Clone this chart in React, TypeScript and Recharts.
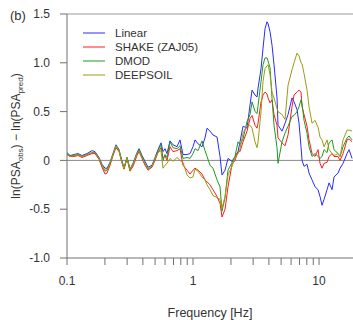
import { LineChart, Line, XAxis, YAxis, ReferenceLine, Customized } from "recharts";

// frequency samples [Hz]
const freq = [
  0.1, 0.1056, 0.1137, 0.1223, 0.1315, 0.1441, 0.1579, 0.1668, 0.1795, 0.1896,
  0.2003, 0.2077, 0.2194, 0.2318, 0.2448, 0.2587, 0.2733, 0.2835, 0.2995, 0.3162,
  0.3341, 0.3594, 0.3728, 0.3938, 0.416, 0.4394, 0.4727, 0.4994, 0.5275, 0.5572,
  0.578, 0.5995, 0.6219, 0.6568, 0.6938, 0.7464, 0.7885, 0.8329, 0.8962, 0.9467,
  1.0, 1.037, 1.096, 1.179, 1.245, 1.292, 1.364, 1.441, 1.551, 1.638,
  1.699, 1.795, 1.896, 2.04, 2.154, 2.276, 2.36, 2.494, 2.683, 2.835,
  2.941, 3.106, 3.221, 3.281, 3.466, 3.594, 3.728, 3.866, 3.938, 4.084,
  4.236, 4.394, 4.642, 4.727, 5.085, 5.373, 5.675, 6.105, 6.333, 6.69,
  6.94, 7.196, 7.33, 7.603, 8.031, 8.33, 8.799, 9.297, 9.82, 10.18,
  10.56, 10.96, 11.58, 12.01, 12.69, 13.15, 14.15, 14.68, 15.51, 16.68,
  17.3, 18.28,
];

const linear = [
  0.08, 0.05, 0.06, 0.07, 0.05, 0.07, 0.1, 0.09, 0.03, -0.04,
  -0.08, -0.08, -0.02, 0.07, 0.16, 0.11, -0.01, -0.08, 0.03, -0.09,
  -0.03, 0.08, 0.12, 0.05, -0.01, -0.07, -0.05, 0.03, 0.11, 0.18,
  0.09, 0.12, 0.07, 0.2, 0.16, 0.14, 0.21, 0.06, 0.06, 0.07,
  0.14, 0.21, 0.17, 0.14, 0.23, 0.33, 0.3, 0.26, 0.24, 0.04,
  -0.15, -0.1, 0.02, -0.01, 0.04, 0.09, 0.19, 0.35, 0.33, 0.57,
  0.72, 0.67, 0.65, 0.74, 0.94, 1.15, 1.35, 1.42, 1.4, 1.32,
  1.18, 0.98, 0.64, 0.36, 0.3, 0.38, 0.47, 0.64, 0.6, 0.52,
  0.38, 0.14, 0.0, -0.06, -0.04, -0.13, -0.2, -0.27, -0.3, -0.37,
  -0.46, -0.4, -0.3, -0.23, -0.3, -0.17, -0.13, -0.08, -0.03, 0.07,
  0.11, 0.02,
];

const shake = [
  0.06, 0.04, 0.04, 0.05, 0.03, 0.05, 0.07, 0.07, 0.01, -0.07,
  -0.14, -0.13, -0.05, 0.05, 0.13, 0.09, -0.03, -0.09, 0.02, -0.11,
  -0.06, 0.05, 0.09, 0.02, -0.05, -0.1, -0.07, 0.0, 0.08, 0.13,
  0.02, 0.05, 0.0, 0.14, 0.09, 0.1, 0.12, -0.05, -0.1, -0.14,
  -0.1, -0.08, -0.1, -0.14, -0.2, -0.22, -0.25, -0.3, -0.37, -0.44,
  -0.58, -0.5, -0.27, -0.04, 0.0, 0.09, 0.09, 0.19, 0.3, 0.43,
  0.46, 0.36, 0.33, 0.38, 0.6, 0.67, 0.7, 0.68, 0.64, 0.59,
  0.62, 0.47, 0.36, 0.23, 0.18, 0.15, 0.26, 0.55, 0.67, 0.7,
  0.72, 0.7, 0.55, 0.47, 0.35, 0.21, 0.07, 0.04, 0.11, -0.03,
  -0.08, -0.03, -0.02, 0.04, 0.07, 0.04, 0.04, 0.0, 0.07, 0.21,
  0.22, 0.19,
];

const dmod = [
  0.07, 0.05, 0.05, 0.06, 0.04, 0.06, 0.08, 0.08, 0.02, -0.05,
  -0.11, -0.1, -0.03, 0.06, 0.15, 0.1, -0.01, -0.08, 0.03, -0.1,
  -0.04, 0.07, 0.11, 0.04, -0.03, -0.09, -0.06, 0.02, 0.1, 0.16,
  0.0, 0.06, 0.03, 0.19, 0.13, 0.12, 0.15, 0.02, 0.03, 0.02,
  0.07, 0.12, 0.1, 0.2, 0.1, 0.04, -0.05, -0.08, -0.2, -0.27,
  -0.52, -0.38, -0.1, -0.02, 0.04, 0.19, 0.16, 0.22, 0.4, 0.47,
  0.6, 0.5, 0.48, 0.56, 0.81, 0.98, 1.05, 1.05, 1.02, 0.95,
  0.64, 0.36, 0.13, -0.03, 0.19, 0.28, 0.35, 0.45, 0.46, 0.5,
  0.55, 0.62, 0.58, 0.41, 0.28, 0.14, 0.04, 0.07, 0.04, 0.02,
  0.04, 0.11, 0.08, 0.18, 0.21, 0.11, 0.07, 0.04, 0.14, 0.23,
  0.25, 0.21,
];

const deepsoil = [
  0.07, 0.04, 0.05, 0.06, 0.04, 0.06, 0.08, 0.08, 0.02, -0.05,
  -0.1, -0.1, -0.03, 0.06, 0.15, 0.1, -0.02, -0.08, 0.03, -0.1,
  -0.04, 0.07, 0.1, 0.03, -0.03, -0.09, -0.06, 0.02, 0.08, 0.1,
  -0.08, -0.05, -0.03, 0.02, -0.01, 0.03, 0.0, -0.02, -0.15, -0.18,
  -0.17, -0.09, -0.11, -0.17, -0.2, -0.25, -0.3, -0.36, -0.38, -0.4,
  -0.49, -0.37, -0.15, -0.06, 0.03, 0.07, 0.12, 0.28, 0.36, 0.36,
  0.33, 0.19, 0.13, 0.19, 0.5, 0.81, 0.94, 0.97, 0.98, 0.88,
  0.7, 0.64, 0.53, 0.5, 0.47, 0.42, 0.77, 0.93, 1.0, 1.1,
  1.07, 1.0, 0.99, 0.89, 0.72, 0.55, 0.38, 0.41, 0.34, 0.24,
  0.21, 0.14, 0.21, 0.11, 0.07, 0.05, 0.07, 0.04, 0.21, 0.31,
  0.31, 0.3,
];

const xTicks = [0.1, 0.2, 0.3, 0.4, 0.5, 0.6, 0.7, 0.8, 0.9, 1, 2, 3, 4, 5, 6, 7, 8, 9, 10];
const xLabels: Record<string, string> = { "0.1": "0.1", "1": "1", "10": "10" };
const yTicks = [-1, -0.5, 0, 0.5, 1, 1.5];

const series = [
  { key: "linear", name: "Linear", color: "#2a2aff" },
  { key: "shake", name: "SHAKE (ZAJ05)", color: "#ff1a1a" },
  { key: "dmod", name: "DMOD", color: "#1f9a1f" },
  { key: "deepsoil", name: "DEEPSOIL", color: "#9c9c10" },
];

const rows = freq.map((f, i) => ({
  f,
  linear: linear[i],
  shake: shake[i],
  dmod: dmod[i],
  deepsoil: deepsoil[i],
}));

const FONT = '"Liberation Sans", Arial, sans-serif';
const AXIS = "#707070";
const TEXT = "#333";

// key box drawn over the upper-left of the plot
const LegendBox = () => (
  <div style={{ position: "absolute", left: 83, top: 26, fontFamily: FONT, fontSize: 11.5, color: TEXT }}>
    {series.map((s) => (
      <div key={s.key} style={{ display: "flex", alignItems: "center", height: 14 }}>
        <svg width={22} height={2} style={{ display: "block" }}>
          <line x1={0} y1={1} x2={22} y2={1} stroke={s.color} strokeWidth={1} />
        </svg>
        <span style={{ marginLeft: 10, whiteSpace: "nowrap" }}>{s.name}</span>
      </div>
    ))}
  </div>
);

const Annotations = () => (
  <g fontFamily={FONT} fill={TEXT}>
    <text x={10} y={20} fontSize={13}>(b)</text>
    <text transform="rotate(-90)" x={-136} y={20} fontSize={12} textAnchor="middle">
      ln(PSA<tspan dy={3} fontSize={8}>obs</tspan>
      <tspan dy={-3}>) − ln(PSA</tspan>
      <tspan dy={3} fontSize={8}>pred</tspan>
      <tspan dy={-3}>)</tspan>
    </text>
  </g>
);

export default function App() {
  return (
    <div style={{ position: "absolute", left: 0, top: 0, width: 353, height: 320 }}>
      <LineChart width={353} height={320} data={rows} margin={{ top: 14, right: 0, bottom: 0, left: 0 }}>
        <XAxis
          dataKey="f"
          type="number"
          scale="log"
          domain={[0.1, 18.6]}
          allowDataOverflow
          ticks={xTicks}
          interval={0}
          tickFormatter={(v: number) => xLabels[String(v)] ?? ""}
          height={62}
          stroke={AXIS}
          tickSize={7}
          tickMargin={11}
          tick={{ fill: TEXT, fontSize: 12, fontFamily: FONT }}
          label={{ value: "Frequency [Hz]", position: "insideBottom", offset: 3, fill: TEXT, fontSize: 12.5, fontFamily: FONT }}
        />
        <YAxis
          type="number"
          domain={[-1, 1.5]}
          ticks={yTicks}
          interval={0}
          tickFormatter={(v: number) => (v === 0 ? "0" : v.toFixed(1))}
          width={67}
          stroke={AXIS}
          tickSize={7}
          tickMargin={10}
          tick={{ fill: TEXT, fontSize: 12, fontFamily: FONT }}
        />
        <ReferenceLine y={1.5} stroke="#999" />
        <ReferenceLine y={0} stroke="#888" />
        {series.map((s) => (
          <Line
            key={s.key}
            dataKey={s.key}
            name={s.name}
            type="linear"
            stroke={s.color}
            strokeWidth={1}
            dot={false}
            isAnimationActive={false}
          />
        ))}
        <Customized component={Annotations} />
      </LineChart>
      <LegendBox />
    </div>
  );
}
